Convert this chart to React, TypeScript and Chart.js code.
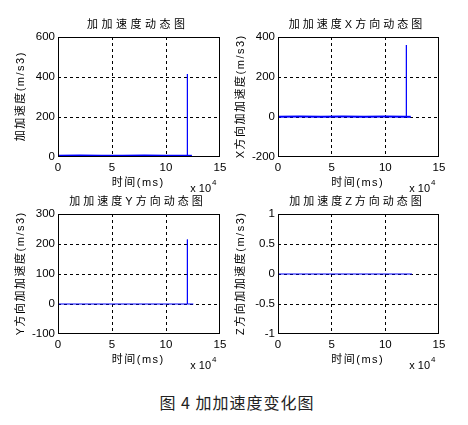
import { useEffect, useRef } from "react";
import { Chart, registerables, type ChartConfiguration, type Plugin } from "chart.js";

Chart.register(...registerables);

// time in ms (axis shows it as x 10^4)
const timeTicks = [0, 50000, 100000, 150000];

const jerkTime = [0, 20000, 40000, 60000, 80000, 100000, 119500, 119700, 119900, 124000];
const jerkValue = [6, 7, 6, 6, 7, 6, 6, 415, 6, 6];
const jerkTicks = [0, 200, 400, 600];

const jerkXTime = [0, 20000, 40000, 60000, 80000, 100000, 119300, 119500, 119700, 123700];
const jerkXValue = [1, 2, 1, 2, 1, 2, 1, 360, 1, 1];
const jerkXTicks = [-200, 0, 200, 400];

const jerkYTime = [0, 119500, 119700, 119900, 125300];
const jerkYValue = [0, 0, 215, 0, 0];
const jerkYTicks = [-100, 0, 100, 200, 300];

const jerkZTime = [0, 124800];
const jerkZValue = [0, 0];
const jerkZTicks = [-1, -0.5, 0, 0.5, 1];

const LATIN = '"Liberation Sans", Arial, "Noto Sans CJK SC", sans-serif';
const X_AXIS_H = 30;

type Box = { left: number; top: number; width: number; height: number };
type Area = { left: number; top: number; right: number; bottom: number };

type PanelProps = {
  title: string;
  yLabel: string;
  time: number[];
  values: number[];
  yTicks: number[];
  baseWidth: number;
  titleSpacing: number;
  box: Box;
  area: Area;
};

function drawSpaced(ctx: any, text: string, x: number, y: number, spacing: number) {
  ctx.letterSpacing = `${spacing}px`;
  ctx.fillText(text, x + spacing / 2, y);
  ctx.letterSpacing = "0px";
}

function Panel({ title, yLabel, time, values, yTicks, baseWidth, titleSpacing, box, area }: PanelProps) {
  const canvasRef = useRef<HTMLCanvasElement>(null);

  useEffect(() => {
    if (!canvasRef.current) return;

    // MATLAB style texts + full axes box
    const matlabText: Plugin<"line"> = {
      id: "matlabText",
      afterDraw(chart) {
        const { ctx } = chart;
        const { left, right, top, bottom } = chart.chartArea;
        const cx = (left + right) / 2;
        ctx.save();
        ctx.strokeStyle = "#000";
        ctx.lineWidth = 1;
        ctx.strokeRect(Math.round(left) + 0.5, Math.round(top) + 0.5, Math.round(right - left) - 1, Math.round(bottom - top) - 1);

        ctx.fillStyle = "#000";
        ctx.textBaseline = "middle";
        ctx.textAlign = "center";
        ctx.font = `11px ${LATIN}`;
        drawSpaced(ctx, title, cx - 3, top - 12.5, titleSpacing);
        drawSpaced(ctx, "时间(ms)", cx - 1.5, bottom + 26, 1.5);

        ctx.save();
        ctx.translate(left - 37.5, (top + bottom) / 2);
        ctx.rotate(-Math.PI / 2);
        drawSpaced(ctx, yLabel, 0, 0, 1.5);
        ctx.restore();

        ctx.textAlign = "right";
        ctx.fillText("x 10", right - 9, bottom + 32);
        ctx.textAlign = "left";
        ctx.font = `8px ${LATIN}`;
        ctx.fillText("4", right - 8, bottom + 25.5);
        ctx.restore();
      },
    };

    const edge = (c: any) => c.index === 0 || c.index === c.scale.ticks.length - 1;
    const tickFont = { family: LATIN, size: 11.5 };

    const cfg: ChartConfiguration<"line"> = {
      type: "line",
      data: {
        datasets: [
          {
            data: time.map((t, i) => ({ x: t, y: values[i] })),
            borderColor: "#0000ff",
            borderWidth: 1,
            pointRadius: 0,
            tension: 0,
            segment: {
              borderWidth: (s: any) =>
                Math.abs(s.p0.parsed.y) < 20 && Math.abs(s.p1.parsed.y) < 20 ? baseWidth : 1,
            },
          },
        ],
      },
      options: {
        responsive: false,
        animation: false,
        events: [],
        layout: {
          padding: {
            left: 0,
            top: area.top,
            right: box.width - area.right,
            bottom: box.height - area.bottom - X_AXIS_H,
          },
        },
        plugins: { legend: { display: false }, tooltip: { enabled: false } },
        scales: {
          x: {
            type: "linear",
            min: timeTicks[0],
            max: timeTicks[timeTicks.length - 1],
            afterBuildTicks: (s) => {
              s.ticks = timeTicks.map((v) => ({ value: v }));
            },
            afterFit: (s) => {
              s.height = X_AXIS_H;
            },
            ticks: {
              color: "#000",
              font: tickFont,
              padding: 4,
              maxRotation: 0,
              callback: (v) => String(Number(v) / 10000),
            },
            grid: {
              drawTicks: false,
              color: (c) => (edge(c) ? "rgba(0,0,0,0)" : "#000"),
            },
            border: { display: false, dash: [3, 3] },
          },
          y: {
            type: "linear",
            min: yTicks[0],
            max: yTicks[yTicks.length - 1],
            afterBuildTicks: (s) => {
              s.ticks = yTicks.map((v) => ({ value: v }));
            },
            afterFit: (s) => {
              s.width = area.left;
            },
            ticks: { color: "#000", font: tickFont, padding: 3, callback: (v) => String(v) },
            grid: {
              drawTicks: false,
              color: (c) => (edge(c) ? "rgba(0,0,0,0)" : "#000"),
            },
            border: { display: false, dash: [3, 3] },
          },
        },
      },
      plugins: [matlabText],
    };

    const chart = new Chart(canvasRef.current, cfg);
    return () => {
      chart.destroy();
    };
  }, [title, yLabel, time, values, yTicks, baseWidth, titleSpacing, box, area]);

  return (
    <canvas
      ref={canvasRef}
      width={box.width}
      height={box.height}
      style={{ position: "absolute", left: box.left, top: box.top, width: box.width, height: box.height }}
    />
  );
}

const BOX1 = { left: 0, top: 0, width: 234, height: 195 };
const AREA1 = { left: 58, top: 37, right: 220, bottom: 157 };
const BOX2 = { left: 224, top: 0, width: 244, height: 195 };
const AREA2 = { left: 54, top: 37, right: 215, bottom: 157 };
const BOX3 = { left: 0, top: 190, width: 234, height: 195 };
const AREA3 = { left: 58, top: 24, right: 220, bottom: 144 };
const BOX4 = { left: 224, top: 190, width: 244, height: 195 };
const AREA4 = { left: 54, top: 24, right: 215, bottom: 144 };

export default function App() {
  return (
    <div
      style={{
        position: "fixed",
        left: 0,
        top: 0,
        width: 468,
        height: 425,
        background: "#fff",
        overflow: "hidden",
      }}
    >
      <Panel
        title="加加速度动态图"
        yLabel="加加速度(m/s3)"
        time={jerkTime}
        values={jerkValue}
        yTicks={jerkTicks}
        baseWidth={2}
        titleSpacing={3.5}
        box={BOX1}
        area={AREA1}
      />
      <Panel
        title="加加速度X方向动态图"
        yLabel="X方向加加速度(m/s3)"
        time={jerkXTime}
        values={jerkXValue}
        yTicks={jerkXTicks}
        baseWidth={2}
        titleSpacing={3}
        box={BOX2}
        area={AREA2}
      />
      <Panel
        title="加加速度Y方向动态图"
        yLabel="Y方向加加速度(m/s3)"
        time={jerkYTime}
        values={jerkYValue}
        yTicks={jerkYTicks}
        baseWidth={1}
        titleSpacing={3}
        box={BOX3}
        area={AREA3}
      />
      <Panel
        title="加加速度Z方向动态图"
        yLabel="Z方向加加速度(m/s3)"
        time={jerkZTime}
        values={jerkZValue}
        yTicks={jerkZTicks}
        baseWidth={1}
        titleSpacing={3}
        box={BOX4}
        area={AREA4}
      />
      <div
        style={{
          position: "absolute",
          left: 0,
          top: 392,
          width: 474,
          textAlign: "center",
          fontFamily: '"Noto Sans CJK SC", sans-serif',
          fontSize: 16,
          lineHeight: "20px",
          letterSpacing: 1,
          color: "#222",
        }}
      >
        图 4 加加速度变化图
      </div>
    </div>
  );
}
